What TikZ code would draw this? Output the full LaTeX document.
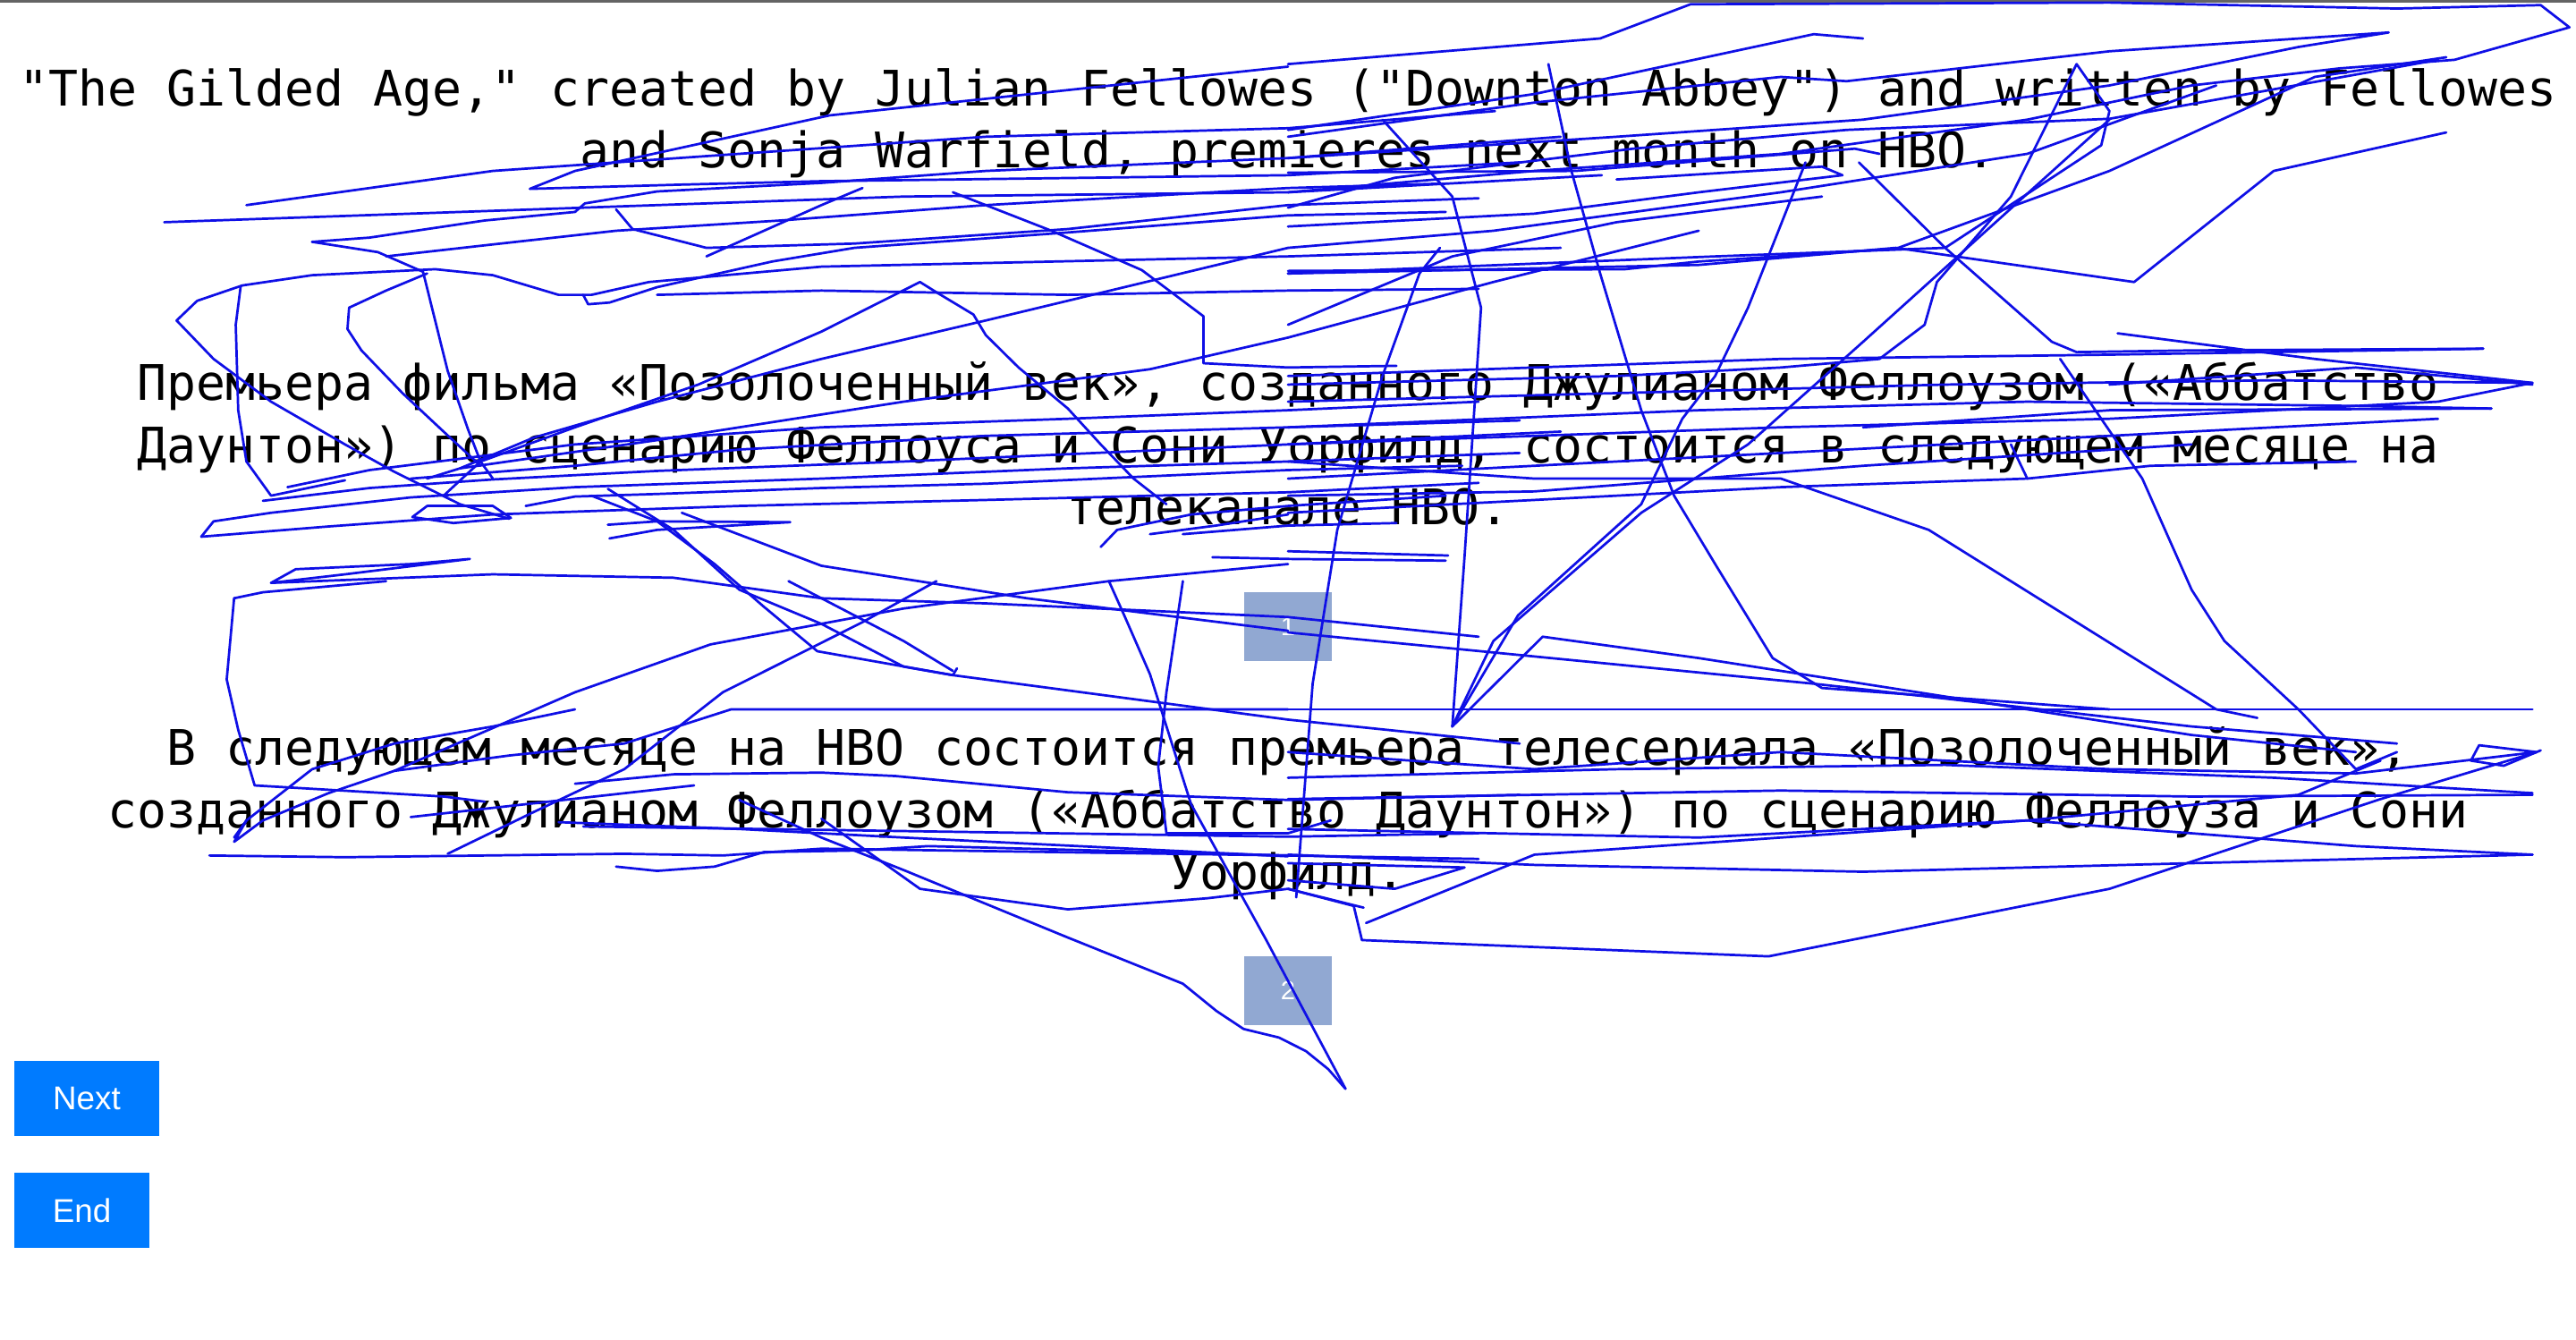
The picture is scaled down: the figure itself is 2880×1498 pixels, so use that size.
\documentclass[tikz,border=0pt]{standalone}
\usepackage{fontspec}
\setmainfont{Liberation Sans}
\newfontfamily\monofnt{DejaVu Sans Mono}
\definecolor{scrib}{RGB}{15,15,230}
\definecolor{btnblue}{RGB}{0,123,255}
\definecolor{boxblue}{RGB}{145,168,210}
\definecolor{topgray}{RGB}{100,100,100}
\tikzset{
  txt/.style={anchor=base, inner sep=0pt, font=\monofnt\fontsize{13.7pt}{16pt}\selectfont, text=black},
  numbox/.style={fill=boxblue, text=white, inner sep=0pt, minimum width=24.5pt, minimum height=19.25pt, font=\fontsize{7.3pt}{8pt}\selectfont},
  btn/.style={fill=btnblue, text=white, inner sep=0pt, minimum height=21pt, font=\fontsize{9.2pt}{10pt}\selectfont},
  scr/.style={draw=scrib, line width=0.68pt, line join=round, line cap=round}
}
\begin{document}
\begin{tikzpicture}[x=0.25pt,y=-0.25pt]
\useasboundingbox (0,0) rectangle (2880,1498);
\fill[white] (0,0) rectangle (2880,1498);
\fill[topgray] (0,0) rectangle (2880,3);
% paragraph 1
\node[txt] (p1a) at (1440,119) {"The Gilded Age," created by Julian Fellowes ("Downton Abbey") and written by Fellowes};
\node[txt] (p1b) at (1440,188) {and Sonja Warfield, premieres next month on HBO.};
% paragraph 2
\node[txt] (p2a) at (1440,447) {Премьера фильма «Позолоченный век», созданного Джулианом Феллоузом («Аббатство};
\node[txt] (p2b) at (1440,517) {Даунтон») по сценарию Феллоуса и Сони Уорфилд, состоится в следующем месяце на};
\node[txt] (p2c) at (1440,586) {телеканале HBO.};
% paragraph 3
\node[txt] (p3a) at (1440,855) {В следующем месяце на HBO состоится премьера телесериала «Позолоченный век»,};
\node[txt] (p3b) at (1440,925) {созданного Джулианом Феллоузом («Аббатство Даунтон») по сценарию Феллоуза и Сони};
\node[txt] (p3c) at (1440,994) {Уорфилд.};
% number boxes
\node[numbox] (b1) at (1440,700.5) {1};
\node[numbox] (b2) at (1440,1107.5) {2};
% buttons
\node[btn, minimum width=40.5pt] (next) at (97,1228) {Next};
\node[btn, minimum width=37.75pt] (end) at (91.5,1353) {End};
% scribbles, left half (zoom coordinates)
\begin{scope}[xscale=0.91837,yscale=0.95541]
\draw[scr] (1568,78) -- (1010,135) -- (700,200) -- (645,221) -- (830,216) -- (1000,212) -- (1568,205) -- (1850,190);
\draw[scr] (380,283) -- (450,278) -- (590,258) -- (700,248) -- (712,238) -- (800,224) -- (1000,214) -- (1200,200) -- (1568,185) -- (1900,160);
\draw[scr] (380,283) -- (460,295) -- (515,318) -- (545,434) -- (570,503) -- (585,540) -- (600,560);
\draw[scr] (750,245) -- (770,268) -- (860,290) -- (1040,285) -- (1300,268) -- (1568,240) -- (1800,232);
\draw[scr] (470,300) -- (600,286) -- (750,270) -- (950,258) -- (1200,240) -- (1568,220) -- (1750,215);
\draw[scr] (215,375) -- (240,352) -- (295,334) -- (380,322) -- (530,315) -- (600,322) -- (680,345) -- (720,345) -- (790,330) -- (1000,312) -- (1568,300) -- (1900,290);
\draw[scr] (710,345) -- (716,356) -- (742,354) -- (800,336) -- (940,306) -- (1040,290) -- (1300,272) -- (1568,252) -- (1760,248);
\draw[scr] (215,375) -- (260,420) -- (330,470) -- (420,520) -- (480,552) -- (560,590) -- (620,607);
\draw[scr] (293,335) -- (287,380) -- (290,480) -- (300,540) -- (330,580) -- (420,562);
\draw[scr] (520,320) -- (470,340) -- (425,360) -- (423,385) -- (440,410) -- (490,460) -- (540,505) -- (585,545);
\draw[scr] (1568,290) -- (1200,375) -- (1000,420) -- (800,470) -- (650,512) -- (560,548) -- (520,560);
\draw[scr] (1120,330) -- (1000,388) -- (850,450) -- (700,500) -- (585,540) -- (540,580);
\draw[scr] (1568,395) -- (1400,432) -- (1100,470) -- (800,515) -- (560,548);
\draw[scr] (1120,330) -- (1140,342) -- (1185,368) -- (1200,392) -- (1240,430) -- (1300,478) -- (1340,520) -- (1380,560) -- (1420,590);
\draw[scr] (1160,225) -- (1280,270) -- (1390,316) -- (1465,370) -- (1465,425) -- (1568,430) -- (1700,428);
\draw[scr] (300,240) -- (600,200) -- (900,180) -- (1200,160) -- (1568,150) -- (1820,130);
\draw[scr] (200,260) -- (500,250) -- (800,240) -- (1100,230) -- (1568,225) -- (1950,205);
\draw[scr] (860,300) -- (1000,240) -- (1050,220);
\draw[scr] (1800,338) -- (1568,340) -- (1300,345) -- (1000,340) -- (800,345);
\draw[scr] (245,628) -- (260,610) -- (330,600) -- (500,582) -- (700,570) -- (1000,560) -- (1300,548) -- (1568,540) -- (1850,530);
\draw[scr] (245,628) -- (400,616) -- (600,602) -- (900,592) -- (1200,585) -- (1568,576) -- (1800,565);
\draw[scr] (320,586) -- (450,571) -- (600,561) -- (800,551) -- (1100,540) -- (1568,520) -- (1900,505);
\draw[scr] (330,682) -- (360,666) -- (500,660) -- (572,654) -- (420,672) -- (330,682);
\draw[scr] (502,605) -- (520,592) -- (600,592) -- (622,606) -- (552,612) -- (502,605);
\draw[scr] (740,614) -- (800,610) -- (962,611) -- (800,620) -- (742,630);
\draw[scr] (640,592) -- (700,581) -- (800,578) -- (1000,571) -- (1200,566) -- (1568,550) -- (1780,545);
\draw[scr] (1800,470) -- (1568,480) -- (1300,490) -- (1000,500) -- (700,520) -- (450,550) -- (350,570);
\draw[scr] (1850,492) -- (1568,500) -- (1200,510) -- (900,526) -- (700,545) -- (500,560);
\draw[scr] (1340,640) -- (1360,620) -- (1450,602) -- (1568,592) -- (1760,580);
\draw[scr] (1440,625) -- (1568,615) -- (1700,612);
\draw[scr] (1400,625) -- (1480,615) -- (1568,602);
\draw[scr] (1476,652) -- (1568,654) -- (1760,656);
\draw[scr] (720,580) -- (800,610) -- (870,660) -- (930,710) -- (995,762) -- (1160,790) -- (1568,842) -- (1850,870);
\draw[scr] (740,572) -- (820,620) -- (900,690) -- (1000,730) -- (1100,780) -- (1160,790) -- (1165,782);
\draw[scr] (830,600) -- (1000,662) -- (1250,700) -- (1568,738);
\draw[scr] (330,682) -- (600,672) -- (820,676) -- (1000,700) -- (1200,706) -- (1568,722) -- (1800,745);
\draw[scr] (285,700) -- (320,693) -- (470,680);
\draw[scr] (285,700) -- (276,795) -- (290,854) -- (310,919) -- (540,932) -- (590,938);
\draw[scr] (480,902) -- (700,810) -- (865,754) -- (1100,712) -- (1350,680) -- (1568,660);
\draw[scr] (1568,830) -- (890,830) -- (760,870) -- (620,884) -- (480,902) -- (400,928) -- (320,960) -- (285,985) -- (300,960);
\draw[scr] (960,680) -- (1100,750) -- (1160,785);
\draw[scr] (1140,680) -- (1050,728) -- (880,810) -- (760,900) -- (650,950) -- (545,999);
\draw[scr] (255,1001) -- (420,1003) -- (760,999) -- (880,1001) -- (1000,993) -- (1568,1001) -- (1800,1005);
\draw[scr] (500,956) -- (845,919);
\draw[scr] (700,917) -- (820,906) -- (1000,904) -- (1090,908) -- (1300,927) -- (1568,936) -- (1850,930);
\draw[scr] (710,967) -- (1000,971) -- (1568,979) -- (1800,975);
\draw[scr] (680,962) -- (900,970) -- (1100,980) -- (1568,1002);
\draw[scr] (750,1014) -- (800,1019) -- (870,1014) -- (930,997) -- (1050,995) -- (1130,990) -- (1568,1001);
\draw[scr] (1000,958) -- (1120,1040) -- (1300,1064) -- (1470,1051) -- (1568,1040) -- (1660,1062);
\draw[scr] (900,936) -- (1000,980) -- (1100,1018) -- (1300,1097) -- (1440,1151) -- (1481,1183) -- (1514,1204) -- (1557,1214) -- (1590,1230) -- (1617,1251) -- (1638,1274);
\draw[scr] (1440,680) -- (1420,810) -- (1410,897) -- (1420,975) -- (1568,975) -- (1620,960);
\draw[scr] (1350,680) -- (1370,723) -- (1400,789) -- (1450,941) -- (1500,1028) -- (1541,1099) -- (1638,1274);
\draw[scr] (285,980) -- (300,960) -- (380,900) -- (480,870) -- (600,850) -- (700,830);
\end{scope}
% scribbles, right half
\begin{scope}[shift={(1440,0)},xscale=0.91837,yscale=0.95541]
\draw[scr] (0,75) -- (380,45) -- (490,5) -- (1000,3) -- (1350,10) -- (1525,6) -- (1560,32) -- (1420,70) -- (1280,80) -- (1100,100) -- (900,140) -- (600,180) -- (300,200) -- (0,225);
\draw[scr] (0,160) -- (300,120) -- (600,90) -- (680,95) -- (1000,60) -- (1340,38) -- (1230,55) -- (1000,100) -- (700,140) -- (400,160) -- (0,185);
\draw[scr] (1410,155) -- (1200,200) -- (1030,330) -- (740,290) -- (500,310) -- (0,320);
\draw[scr] (0,152) -- (300,110) -- (640,40) -- (700,45);
\draw[scr] (0,202) -- (350,200) -- (690,174) -- (720,180);
\draw[scr] (0,243) -- (130,208) -- (420,174) -- (680,152) -- (1000,139) -- (1400,70);
\draw[scr] (0,265) -- (300,250) -- (500,225) -- (675,205) -- (650,195) -- (400,210);
\draw[scr] (0,290) -- (250,270) -- (600,225) -- (900,180) -- (1130,100);
\draw[scr] (0,317) -- (410,315) -- (500,306) -- (740,291) -- (1000,200) -- (1250,90) -- (1410,67);
\draw[scr] (0,380) -- (200,300) -- (400,260) -- (650,230);
\draw[scr] (0,395) -- (250,330) -- (500,270);
\draw[scr] (317,75) -- (345,200) -- (380,320) -- (430,480) -- (470,580) -- (520,660) -- (590,770) -- (650,805) -- (1000,830);
\draw[scr] (115,140) -- (200,230) -- (235,360) -- (215,650) -- (200,850);
\draw[scr] (185,290) -- (160,320) -- (115,440) -- (60,620) -- (30,800) -- (10,1050);
\draw[scr] (960,75) -- (880,230) -- (790,330) -- (775,380) -- (720,420) -- (600,430) -- (400,440) -- (0,450);
\draw[scr] (960,75) -- (1000,130) -- (990,170) -- (800,290) -- (520,300) -- (0,320);
\draw[scr] (695,190) -- (800,290) -- (930,400) -- (960,412) -- (1100,410) -- (1455,408);
\draw[scr] (1000,140) -- (700,400) -- (560,520) -- (430,600) -- (250,750) -- (200,850);
\draw[scr] (940,420) -- (1040,560) -- (1100,690) -- (1140,750) -- (1230,830) -- (1300,900) -- (1350,880);
\draw[scr] (630,190) -- (560,360) -- (520,440) -- (480,490) -- (430,590) -- (280,720) -- (200,850);
\draw[scr] (0,540) -- (300,560) -- (600,560) -- (780,620) -- (1130,830) -- (1180,840);
\draw[scr] (0,740) -- (640,800) -- (1100,850) -- (1350,870);
\draw[scr] (0,830) -- (1380,830) -- (1515,830);
\draw[scr] (200,850) -- (310,745) -- (500,770) -- (1100,860) -- (1300,880);
\draw[scr] (0,440) -- (300,430) -- (600,420) -- (1000,415) -- (1455,408);
\draw[scr] (0,470) -- (400,460) -- (800,450) -- (1200,445) -- (1515,448) -- (1400,470) -- (1000,490) -- (600,500) -- (0,520);
\draw[scr] (0,500) -- (500,480) -- (900,470) -- (1300,475) -- (1465,478);
\draw[scr] (1010,390) -- (1250,420) -- (1515,448);
\draw[scr] (1000,450) -- (1300,430) -- (1515,450);
\draw[scr] (700,500) -- (1000,480) -- (1465,478);
\draw[scr] (0,560) -- (400,540) -- (800,520) -- (1200,500) -- (1400,490);
\draw[scr] (0,580) -- (300,575) -- (700,545) -- (1100,520);
\draw[scr] (0,600) -- (200,590) -- (600,570) -- (900,560);
\draw[scr] (0,645) -- (195,650);
\draw[scr] (880,520) -- (900,560) -- (1050,545) -- (1300,540);
\draw[scr] (0,880) -- (300,900) -- (600,880) -- (1000,900) -- (1300,905) -- (1520,880) -- (1450,872) -- (1440,890) -- (1480,896) -- (1525,878);
\draw[scr] (0,910) -- (400,900) -- (800,895) -- (1200,910) -- (1515,928);
\draw[scr] (0,935) -- (600,925) -- (1100,932) -- (1515,930);
\draw[scr] (0,970) -- (500,980) -- (900,960) -- (1300,990) -- (1515,1000);
\draw[scr] (0,1000) -- (300,1012) -- (700,1020) -- (1100,1010) -- (1515,1000);
\draw[scr] (95,1080) -- (300,1000) -- (600,980) -- (900,960) -- (1230,930) -- (1330,890);
\draw[scr] (90,1100) -- (585,1119) -- (1000,1040) -- (1330,935) -- (1520,880);
\draw[scr] (0,1040) -- (80,1060) -- (90,1100);
\draw[scr] (0,1010) -- (215,1015) -- (130,1040) -- (0,1030);
\end{scope}
\end{tikzpicture}
\end{document}
